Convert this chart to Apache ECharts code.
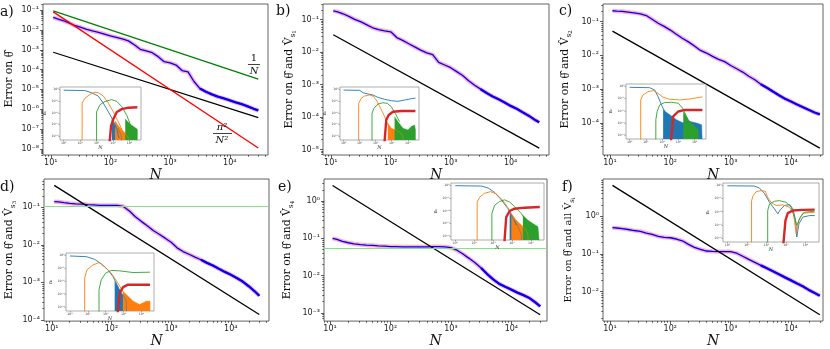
<!DOCTYPE html>
<html><head><meta charset="utf-8">
<script src="https://cdn.jsdelivr.net/npm/echarts@6/dist/echarts.min.js"></script>
<style>html,body{margin:0;padding:0;background:#fff}#c{width:830px;height:349px}</style>
</head><body><div id="c"></div>
<script>
// ---------------- DATA ----------------
const N = [11,13,16,20,25,32,40,50,63,79,100,126,158,200,251,316,398,501,631,794,1000,1259,1585,1995,2512,3162,3981,5012,6310,7943,10000,12589,15849,19953,25119,30000];
const errA = [0.043,0.036,0.030,0.023,0.017,0.0135,0.0107,0.0089,0.0076,0.0062,0.0050,0.0042,0.0035,0.0028,0.0018,0.00105,0.00087,0.00071,0.00045,0.00025,0.00022,0.00017,0.000089,0.000076,0.000025,0.000011,7.6e-6,5.6e-6,4.3e-6,3.5e-6,2.8e-6,2.2e-6,1.8e-6,1.4e-6,1.05e-6,8.7e-7];
const errB = [0.186,0.174,0.151,0.126,0.102,0.085,0.069,0.056,0.049,0.045,0.042,0.028,0.023,0.018,0.0145,0.0115,0.0095,0.0083,0.0048,0.0040,0.0033,0.0025,0.0019,0.0013,0.00095,0.00072,0.00055,0.00043,0.00035,0.00028,0.00022,0.00018,0.00014,0.00011,0.000083,0.000069];
const errC = [0.209,0.204,0.200,0.191,0.182,0.170,0.151,0.117,0.089,0.072,0.056,0.042,0.032,0.025,0.019,0.014,0.0117,0.0093,0.0076,0.0065,0.0050,0.0040,0.0032,0.0024,0.0019,0.0014,0.0011,0.00085,0.00066,0.00052,0.00043,0.00035,0.00029,0.00024,0.00020,0.00018];
const errD = [0.141,0.138,0.132,0.126,0.123,0.120,0.117,0.115,0.112,0.112,0.112,0.112,0.105,0.079,0.056,0.042,0.032,0.024,0.019,0.015,0.0117,0.0083,0.0066,0.0056,0.0047,0.0040,0.0033,0.0028,0.0023,0.0019,0.0016,0.0013,0.00105,0.00079,0.00058,0.00044];
const errE = [0.100,0.093,0.083,0.076,0.071,0.068,0.066,0.065,0.063,0.062,0.060,0.060,0.059,0.059,0.059,0.059,0.059,0.060,0.060,0.059,0.056,0.048,0.038,0.029,0.022,0.016,0.011,0.0079,0.0060,0.0050,0.0042,0.0035,0.0030,0.0025,0.0019,0.0015];
const errF = [0.50,0.49,0.47,0.447,0.42,0.40,0.36,0.33,0.295,0.275,0.27,0.25,0.224,0.18,0.15,0.132,0.12,0.117,0.115,0.115,0.115,0.105,0.087,0.072,0.060,0.050,0.042,0.035,0.029,0.024,0.020,0.0166,0.0138,0.011,0.0091,0.0078];

const refN = [11, 30000];
const refA = [7.5e-4, 3.8e-7];
const refB = [0.034, 1.1e-5];
const refC = [0.052, 1.8e-5];
const refD = [0.38, 1.4e-4];
const refE = [2.6, 8.9e-4];
const refF = [6.6, 2.45e-3];
const oneOverN = [0.091, 3.3e-5];
const pi2OverN2 = [0.0816, 1.1e-8];
const levelD = 0.105;
const levelE = 0.053;

const xTickExp = [1,2,3,4];
const yTickExpA = [-8,-7,-6,-5,-4,-3,-2,-1];
const yTickExpB = [-5,-4,-3,-2,-1];
const yTickExpC = [-4,-3,-2,-1];
const yTickExpD = [-4,-3,-2,-1];
const yTickExpE = [-3,-2,-1,0];
const yTickExpF = [-2,-1,0];
const insXTickExp = [0,1,2,3,4];
const insYTickExp = [-4,-3,-2,-1,0];

// insets: [N, n] pairs
const insA_blue = [[1,0.81],[19,0.76],[49,0.5],[126,0.26],[257,0.065],[525,0.0117],[1050,0.0021],[1700,0.00039],[2340,0.00007]];
const insA_blueNoise = [[850,0.003],[1350,0.00078],[2140,0.00039],[3100,0.000138],[3550,0.00001]];
const insA_orange = [[13.2,1e-5],[13.2,0.065],[19,0.16],[39,0.36],[79,0.54],[126,0.5],[257,0.26],[525,0.065],[1050,0.0117],[1950,0.0021],[3470,0.00039]];
const insA_orangeNoise = [[1320,0.0021],[2140,0.00078],[3400,0.00039],[5500,0.000195],[8700,0.00007],[9500,1e-5]];
const insA_green = [[100,1e-5],[100,0.0117],[158,0.047],[324,0.091],[830,0.129],[1700,0.091],[3400,0.033],[6900,0.006],[11000,0.00107],[17800,0.000275]];
const insA_greenNoise = [[5500,0.003],[11000,0.00107],[22400,0.00055],[30000,0.0004],[30000,1e-5]];
const insA_red = [[575,1e-5],[760,0.00078],[1050,0.003],[1700,0.0117],[3400,0.0204],[8700,0.027],[30000,0.029]];

const insB_blue = [[1,0.83],[10,0.79],[16,0.5],[33,0.39],[68,0.32],[138,0.2],[363,0.138],[933,0.105],[2450,0.093],[6300,0.12],[16600,0.155],[30000,0.175]];
const insB_blueNoise = [];
const insB_orange = [[8.7,1e-5],[8.7,0.063],[12.6,0.166],[20,0.26],[42,0.32],[68,0.26],[110,0.12],[204,0.024],[363,0.0047],[645,0.00068],[933,0.00018]];
const insB_orangeNoise = [[575,0.0013],[933,0.00049],[1900,0.00035],[4000,0.00018],[5000,0.000095],[5200,1e-5]];
const insB_green = [[59,1e-5],[59,0.0089],[78,0.024],[138,0.055],[282,0.071],[525,0.063],[933,0.033],[1660,0.0089],[3100,0.00178]];
const insB_greenNoise = [[1510,0.0047],[2450,0.00178],[5000,0.00049],[10200,0.00035],[16600,0.00068],[26900,0.00093],[30000,0.00035],[30000,1e-5]];
const insB_red = [[331,1e-5],[457,0.00245],[645,0.0065],[1200,0.0123],[4000,0.014],[30000,0.014]];

const insC_blue = [[1,0.81],[17,0.76],[35,0.49],[56,0.141],[91,0.03],[145,0.0087],[295,0.003],[600,0.00135],[1230,0.0006]];
const insC_blueNoise = [[115,0.0117],[295,0.0047],[760,0.00186],[2000,0.001],[5100,0.00135],[13200,0.001],[27000,0.00072],[30000,0.0005],[30000,1e-5]];
const insC_orange = [[4.8,1e-5],[4.8,0.076],[6.6,0.195],[13.5,0.36],[30,0.44],[56,0.26],[115,0.126],[295,0.087],[1230,0.076],[5100,0.091],[21000,0.126],[30000,0.135]];
const insC_orangeNoise = [];
const insC_green = [[41,1e-5],[41,0.00186],[49,0.0087],[71,0.03],[145,0.047],[372,0.049],[980,0.041],[1820,0.0162],[3160,0.0035],[5100,0.00072]];
const insC_greenNoise = [[2000,0.0087],[4100,0.00186],[8100,0.00072],[16600,0.00029],[17000,1e-5]];
const insC_red = [[324,1e-5],[480,0.0035],[980,0.0087],[2500,0.0117],[30000,0.0117]];

const insD_blue = [[1,0.89],[8.1,0.79],[24,0.49],[56,0.22],[132,0.076],[251,0.0234],[427,0.0054],[660,0.00126]];
const insD_blueNoise = [[316,0.0098],[600,0.00224],[1000,0.00069],[1410,0.00029],[1500,1e-5]];
const insD_orange = [[6.6,1e-5],[6.6,0.0174],[8.9,0.076],[19,0.18],[42,0.275],[87,0.135],[204,0.042],[479,0.0072],[1000,0.00126],[1780,0.00029]];
const insD_orangeNoise = [[912,0.00166],[1780,0.00069],[3400,0.00029],[7900,0.000162],[18600,0.00029],[30000,0.00029],[30000,1e-5]];
const insD_green = [[42,1e-5],[42,0.00224],[56,0.0129],[98,0.042],[204,0.068],[600,0.063],[3400,0.047],[30000,0.05]];
const insD_greenNoise = [];
const insD_red = [[427,1e-5],[600,0.00126],[933,0.0035],[1780,0.0054],[30000,0.0054]];

const insE_blue = [[1,0.93],[24,0.87],[54,0.62],[120,0.28],[275,0.072],[617,0.0145],[1120,0.0032],[1700,0.00074]];
const insE_blueNoise = [[760,0.0079],[1120,0.00245],[1700,0.001],[2570,0.0003],[3160,0.000123],[3200,1e-5]];
const insE_orange = [[14.5,1e-5],[14.5,0.048],[19.5,0.115],[35,0.234],[74,0.316],[148,0.209],[331,0.065],[760,0.0107],[1380,0.0018]];
const insE_orangeNoise = [[933,0.0059],[1700,0.0018],[3160,0.00074],[5750,0.0003],[7100,0.000123],[7300,1e-5]];
const insE_green = [[87,1e-5],[87,0.0059],[120,0.026],[224,0.054],[407,0.072],[760,0.048],[1380,0.022],[3160,0.0059],[7100,0.001]];
const insE_greenNoise = [[3800,0.0044],[7100,0.0018],[12900,0.001],[24000,0.00055],[30000,0.0004],[30000,1e-5]];
const insE_red = [[380,1e-5],[500,0.0032],[760,0.0095],[1380,0.0145],[4700,0.0174],[30000,0.0195]];

const insF_blue = [[1,0.93],[24,0.89],[44,0.63],[79,0.25],[145,0.052],[257,0.0166],[389,0.0069],[513,0.0138],[851,0.0295],[1550,0.035],[2290,0.0166],[3160,0.0022],[3630,0.00012],[4680,0.0012],[7400,0.0039],[16600,0.0051],[30000,0.0051]];
const insF_blueNoise = [];
const insF_orange = [[17.4,1e-5],[17.4,0.069],[21,0.166],[30,0.33],[54,0.4],[89,0.355],[117,0.123],[174,0.052],[316,0.0295],[692,0.033],[1550,0.022],[2450,0.0069],[3390,0.00021],[4680,0.0022],[7400,0.0078],[30000,0.0091]];
const insF_orangeNoise = [];
const insF_green = [[117,1e-5],[117,0.0123],[145,0.039],[257,0.062],[468,0.069],[1020,0.052],[1860,0.022],[2750,0.0039],[3630,0.00091],[5500,0.0039],[9100,0.0091],[30000,0.011]];
const insF_greenNoise = [];
const insF_red = [[692,1e-5],[955,0.0022],[1260,0.0078],[2290,0.0123],[7400,0.0138],[30000,0.0145]];

// ---------------- helpers ----------------
const L = v => Math.log10(v);
const SUPS = {'-':'\u207B','0':'\u2070','1':'\u00B9','2':'\u00B2','3':'\u00B3','4':'\u2074','5':'\u2075','6':'\u2076','7':'\u2077','8':'\u2078','9':'\u2079'};
const expLabel = v => '10' + String(Math.round(v)).split('').map(c => SUPS[c]).join('');
const toXY = (xs, ys) => xs.map((x, i) => [L(x), L(ys[i])]);
const pairXY = arr => arr.map(p => [L(p[0]), L(p[1])]);
function minorTicks(lo, hi) {
  const out = [];
  for (let e = Math.floor(lo) - 1; e <= Math.ceil(hi); e++)
    for (let k = 2; k <= 9; k++) { const t = e + Math.log10(k); if (t > lo && t < hi) out.push(t); }
  return out;
}
const SERIF = '"DejaVu Serif", "Liberation Serif", serif';
const SANS = '"DejaVu Sans", sans-serif';
const TH = '{th|\u03B8\u0302}';
const HAT_V = 'V\u0302';
const C_BLUE = '#1f77b4', C_ORANGE = '#ff7f0e', C_GREEN = '#2ca02c', C_RED = '#d62728';

const grids = [], xAxes = [], yAxes = [], series = [];

function addMain(p) {
  const gi = grids.length;
  grids.push({left: p.box[0], top: p.box[1], width: p.box[2], height: p.box[3], show: true,
    borderColor: '#505050', borderWidth: 0.9, backgroundColor: '#fff'});
  const tickStyle = {color: '#333', width: 0.8};
  const xi = xAxes.length;
  const fs = p.fs || 10.8;
  xAxes.push({gridIndex: gi, type: 'value', position: 'bottom', min: p.x[0], max: p.x[1],
    axisLine: {show: false, onZero: false},
    axisTick: {show: true, customValues: xTickExp, length: 3, lineStyle: tickStyle},
    axisLabel: {show: true, customValues: xTickExp, formatter: expLabel, fontSize: 8, color: '#222', margin: 4, fontFamily: SANS},
    splitLine: {show: false}, name: 'N', nameLocation: 'middle', nameGap: p.xGap,
    nameTextStyle: {fontFamily: SERIF, fontStyle: 'italic', fontSize: 14, color: '#111'}});
  xAxes.push({gridIndex: gi, type: 'value', position: 'bottom', min: p.x[0], max: p.x[1],
    axisLine: {show: false, onZero: false},
    axisTick: {show: true, customValues: minorTicks(p.x[0], p.x[1]), length: 1.7, lineStyle: tickStyle},
    axisLabel: {show: false}, splitLine: {show: false}});
  const yi = yAxes.length;
  yAxes.push({gridIndex: gi, type: 'value', position: 'left', min: p.y[0], max: p.y[1],
    axisLine: {show: false, onZero: false},
    axisTick: {show: true, customValues: p.yt, length: 3, lineStyle: tickStyle},
    axisLabel: {show: true, customValues: p.yt, formatter: expLabel, fontSize: 8, color: '#222', margin: 4, fontFamily: SANS},
    splitLine: {show: false}, name: p.name, nameLocation: 'middle', nameGap: p.yGap,
    nameTextStyle: {fontFamily: SERIF, fontSize: fs, color: '#111', lineHeight: 15,
      rich: {th: {fontFamily: '"Liberation Serif", serif', fontSize: fs + 1.5, lineHeight: 15, color: '#111'},
             s: {fontFamily: SERIF, fontSize: fs * 0.68, verticalAlign: 'bottom', lineHeight: 10, color: '#111'},
             ss: {fontFamily: SERIF, fontSize: fs * 0.5, verticalAlign: 'bottom', lineHeight: 7, color: '#111'}}}});
  yAxes.push({gridIndex: gi, type: 'value', position: 'left', min: p.y[0], max: p.y[1],
    axisLine: {show: false, onZero: false},
    axisTick: {show: true, customValues: minorTicks(p.y[0], p.y[1]), length: 1.7, lineStyle: tickStyle},
    axisLabel: {show: false}, splitLine: {show: false}});
  const base = {type: 'line', xAxisIndex: xi, yAxisIndex: yi, showSymbol: false, silent: true, animation: false, clip: true};
  const curve = toXY(N, p.err);
  series.push(Object.assign({}, base, {data: curve, lineStyle: {color: 'rgba(255,165,185,0.85)', width: 4.2}, z: 2}));
  series.push(Object.assign({}, base, {data: curve, lineStyle: {color: '#0000ff', width: 1.3}, z: 3}));
  series.push(Object.assign({}, base, {data: curve.slice(25), lineStyle: {color: '#0000ff', width: 2.3}, z: 3}));
  series.push(Object.assign({}, base, {data: toXY(refN, p.ref), lineStyle: {color: '#000', width: 1.3}, z: 4}));
  (p.extra || []).forEach(e => series.push(Object.assign({}, base, {data: toXY(refN, e.v), lineStyle: {color: e.c, width: 1.3}, z: 4})));
  if (p.level) {
    series.push(Object.assign({}, base, {data: [], z: 4,
      markLine: {silent: true, symbol: 'none', animation: false, label: {show: false},
        lineStyle: {color: '#84e184', width: 1.1, type: 'solid'}, data: [{yAxis: L(p.level)}]}}));
  }
}

function addInset(box, c) {
  const gi = grids.length;
  grids.push({left: box[0], top: box[1], width: box[2], height: box[3], show: true, z: 5,
    borderColor: '#777', borderWidth: 0.6, backgroundColor: '#fff'});
  const tk = {color: '#666', width: 0.5};
  const xi = xAxes.length;
  xAxes.push({gridIndex: gi, type: 'value', position: 'bottom', min: -0.224, max: 4.70, z: 6,
    axisLine: {show: false, onZero: false},
    axisTick: {show: true, customValues: insXTickExp, length: 1.5, lineStyle: tk},
    axisLabel: {show: true, customValues: insXTickExp, formatter: expLabel, fontSize: 3.2, color: '#444', margin: 1.5, fontFamily: SANS},
    splitLine: {show: false}, name: 'N', nameLocation: 'middle', nameGap: 4,
    nameTextStyle: {fontFamily: SERIF, fontStyle: 'italic', fontSize: 5, color: '#333'}});
  const yi = yAxes.length;
  yAxes.push({gridIndex: gi, type: 'value', position: 'left', min: -4.3, max: 0.18, z: 6,
    axisLine: {show: false, onZero: false},
    axisTick: {show: true, customValues: insYTickExp, length: 1.5, lineStyle: tk},
    axisLabel: {show: true, customValues: insYTickExp, formatter: expLabel, fontSize: 3.2, color: '#444', margin: 1.5, fontFamily: SANS},
    splitLine: {show: false}, name: 'n\u1D62', nameLocation: 'middle', nameGap: 8,
    nameTextStyle: {fontFamily: SERIF, fontSize: 5, color: '#333'}});
  const base = {type: 'line', xAxisIndex: xi, yAxisIndex: yi, showSymbol: false, silent: true, animation: false, clip: true, z: 7};
  const cols = {blue: C_BLUE, orange: C_ORANGE, green: C_GREEN, red: C_RED};
  ['blue', 'orange', 'green', 'red'].forEach(k => {
    const noise = c[k + 'Noise'];
    if (noise && noise.length) {
      series.push(Object.assign({}, base, {data: pairXY(noise), lineStyle: {color: cols[k], width: 0.5},
        areaStyle: {origin: 'start', color: cols[k], opacity: 1}}));
    }
    series.push(Object.assign({}, base, {data: pairXY(c[k]), lineStyle: {color: cols[k], width: k === 'red' ? 2.4 : 0.9}}));
  });
}

const panels = [
  {box: [43, 4, 225, 151], x: [0.87, 4.64], y: [-8.31, -0.69], yt: yTickExpA, err: errA, ref: refA,
   name: 'Error on ' + TH, yGap: 26, xGap: 8,
   extra: [{v: oneOverN, c: '#008000'}, {v: pi2OverN2, c: '#ff0000'}]},
  {box: [323, 4, 226, 151], x: [0.87, 4.64], y: [-5.17, -0.52], yt: yTickExpB, err: errB, ref: refB,
   name: 'Error on ' + TH + ' and ' + HAT_V + '{s|s}{ss|1}', yGap: 26, xGap: 8},
  {box: [603, 4, 220, 151], x: [0.885, 4.53], y: [-4.95, -0.48], yt: yTickExpC, err: errC, ref: refC,
   name: 'Error on ' + TH + ' and ' + HAT_V + '{s|s}{ss|2}', yGap: 30, xGap: 8},
  {box: [44, 179, 225, 147], x: [0.87, 4.64], y: [-4.03, -0.25], yt: yTickExpD, err: errD, ref: refD,
   name: 'Error on ' + TH + ' and ' + HAT_V + '{s|s}{ss|3}', yGap: 27, xGap: 9, level: levelD},
  {box: [324, 179, 223, 147], x: [0.90, 4.59], y: [-3.22, 0.59], yt: yTickExpE, err: errE, ref: refE,
   name: 'Error on ' + TH + ' and ' + HAT_V + '{s|s}{ss|4}', yGap: 29, xGap: 9, level: levelE},
  {box: [603, 179, 220, 147], x: [0.885, 4.53], y: [-2.78, 0.99], yt: yTickExpF, err: errF, ref: refF,
   name: 'Error on ' + TH + ' and all ' + HAT_V + '{s|s}{ss|i}', yGap: 27, xGap: 9, fs: 10}
];
panels.forEach(addMain);

addInset([60, 87, 81, 53], {blue: insA_blue, blueNoise: insA_blueNoise, orange: insA_orange, orangeNoise: insA_orangeNoise, green: insA_green, greenNoise: insA_greenNoise, red: insA_red});
addInset([340, 87, 79, 53], {blue: insB_blue, blueNoise: insB_blueNoise, orange: insB_orange, orangeNoise: insB_orangeNoise, green: insB_green, greenNoise: insB_greenNoise, red: insB_red});
addInset([626, 84, 80, 55], {blue: insC_blue, blueNoise: insC_blueNoise, orange: insC_orange, orangeNoise: insC_orangeNoise, green: insC_green, greenNoise: insC_greenNoise, red: insC_red});
addInset([66, 253, 88, 58], {blue: insD_blue, blueNoise: insD_blueNoise, orange: insD_orange, orangeNoise: insD_orangeNoise, green: insD_green, greenNoise: insD_greenNoise, red: insD_red});
addInset([451, 183, 93, 57], {blue: insE_blue, blueNoise: insE_blueNoise, orange: insE_orange, orangeNoise: insE_orangeNoise, green: insE_green, greenNoise: insE_greenNoise, red: insE_red});
addInset([723, 183, 96, 59], {blue: insF_blue, blueNoise: insF_blueNoise, orange: insF_orange, orangeNoise: insF_orangeNoise, green: insF_green, greenNoise: insF_greenNoise, red: insF_red});

function txt(x, y, s, size, italic, align) {
  return {type: 'text', x: x, y: y, z: 10, silent: true,
    style: {text: s, fontFamily: SERIF, fontSize: size, fontStyle: italic ? 'italic' : 'normal', fill: '#111',
      align: align || 'center', verticalAlign: 'middle', textAlign: align || 'center', textVerticalAlign: 'middle'}};
}
function bar(x1, x2, y) {
  return {type: 'line', z: 10, silent: true, shape: {x1: x1, y1: y, x2: x2, y2: y}, style: {stroke: '#111', lineWidth: 0.8}};
}
const graphic = [
  txt(0, 12, 'a)', 14, false, 'left'), txt(276, 11, 'b)', 14, false, 'left'), txt(559, 11, 'c)', 14, false, 'left'),
  txt(0, 187, 'd)', 14, false, 'left'), txt(278, 187, 'e)', 14, false, 'left'), txt(562, 187, 'f)', 14, false, 'left'),
  txt(254, 58, '1', 10, false), bar(248, 260, 64.5), txt(254, 71, 'N', 10, true),
  txt(222, 127, '\u03C0\u00B2', 10, true), bar(213, 232, 133.5), txt(222, 140, 'N\u00B2', 10, true)
];

const chart = echarts.init(document.getElementById('c'), null, {renderer: 'canvas'});
chart.setOption({animation: false, backgroundColor: '#fff', grid: grids, xAxis: xAxes, yAxis: yAxes, series: series, graphic: graphic});
</script></body></html>
